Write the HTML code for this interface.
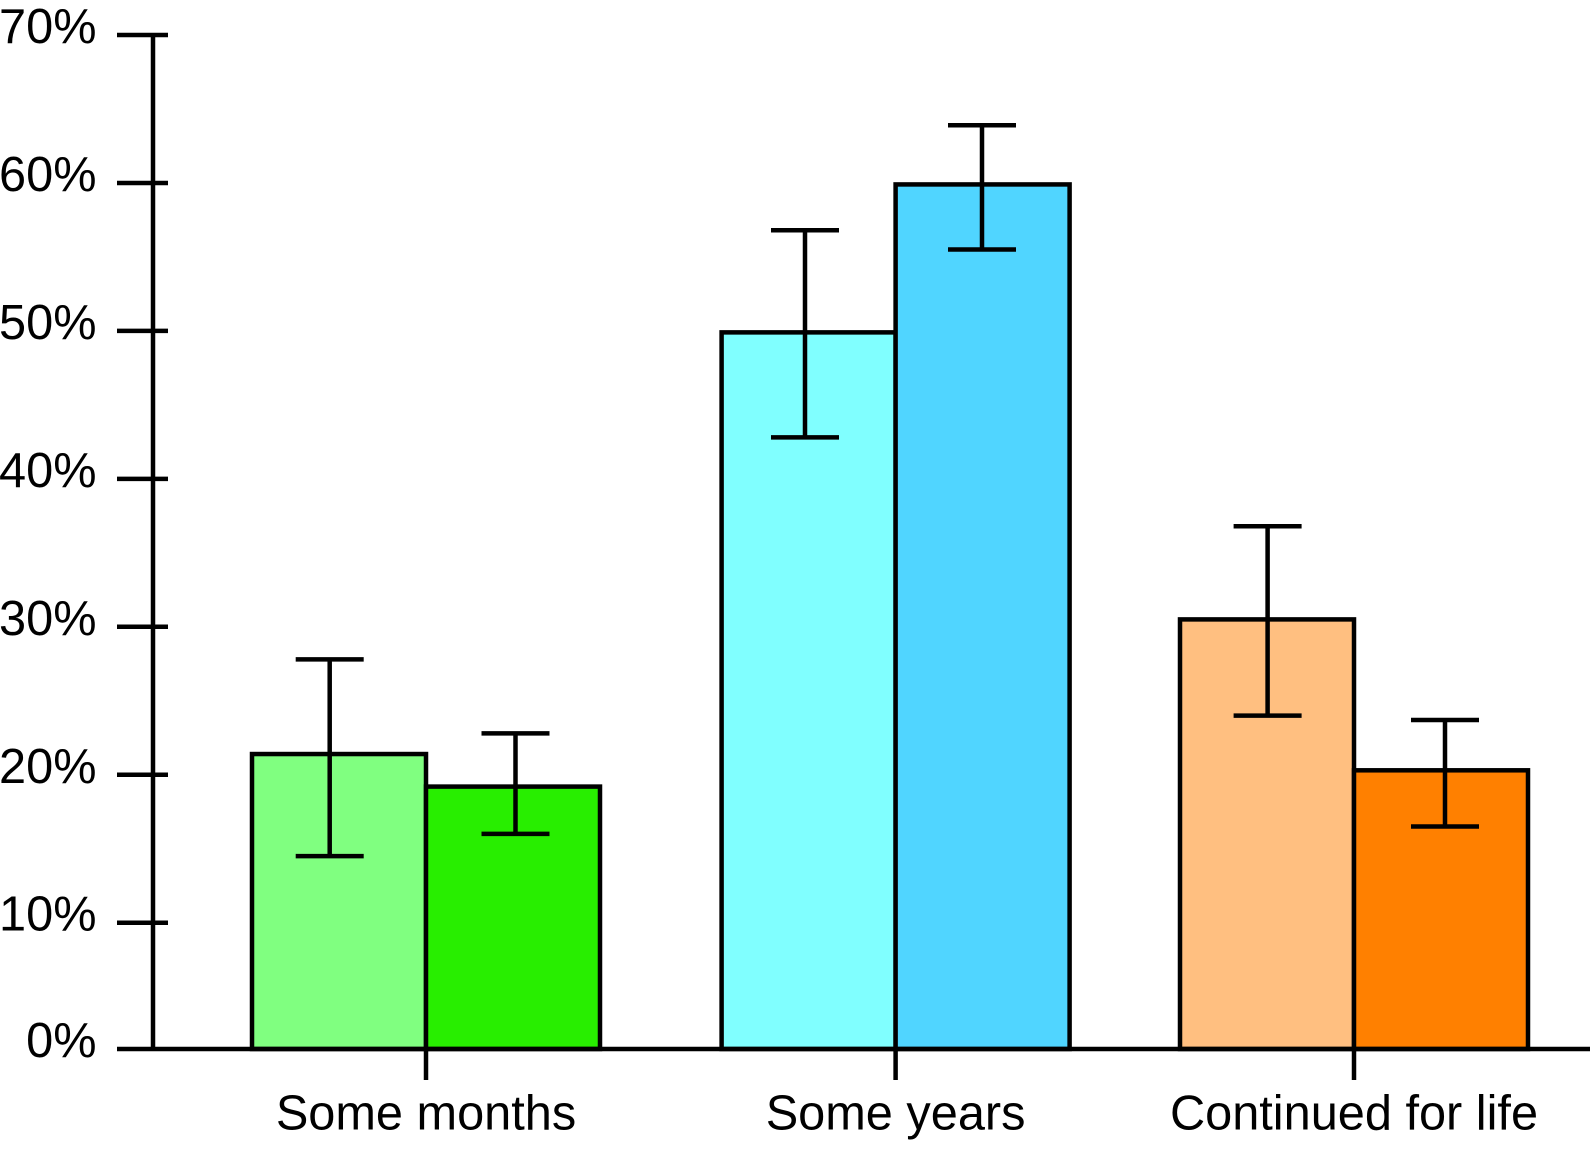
<!DOCTYPE html>
<html lang="en">
<head>
<meta charset="utf-8">
<title>Duration bar chart</title>
<style>
html,body{margin:0;padding:0;background:#fff;}
svg{display:block;}
text{font-family:"Liberation Sans",Arial,sans-serif;font-size:48.7px;fill:#000;}
</style>
</head>
<body>
<svg id="chart" xmlns="http://www.w3.org/2000/svg" width="1590" height="1153" viewBox="0 0 1590 1153"></svg>
<script>
const categories = ["Some months", "Some years", "Continued for life"];
const lightValues = [21.4, 49.9, 30.5];
const darkValues = [19.2, 59.9, 20.3];
const lightErrLow = [14.5, 42.8, 24.0];
const lightErrHigh = [27.8, 56.8, 36.8];
const darkErrLow = [16.0, 55.5, 16.5];
const darkErrHigh = [22.8, 63.9, 23.7];
const yTickValues = [0, 10, 20, 30, 40, 50, 60, 70];
const yTickLabels = ["0%", "10%", "20%", "30%", "40%", "50%", "60%", "70%"];
const lightColors = ["#80ff80", "#80ffff", "#ffbf80"];
const darkColors = ["#28ee00", "#50d5ff", "#ff8000"];

const NS = "http://www.w3.org/2000/svg";
const svg = document.getElementById("chart");
const STROKE = 4.5;

function yScale(v) {
  // The source axis has a compressed 0-10 segment.
  return v >= 10 ? 922.7 - (v - 10) * 14.795 : 1049 - v * 12.63;
}
function groupX(i) {
  return [426, 895.6, 1354][i];
}
function errX(i, series) {
  const offsets = series === 0 ? [-96.3, -90.6, -86.4] : [89.5, 86.4, 91];
  return groupX(i) + offsets[i];
}
const barWidth = 174;

function make(tag, attrs, parent) {
  const el = document.createElementNS(NS, tag);
  for (const k in attrs) el.setAttribute(k, attrs[k]);
  (parent || svg).appendChild(el);
  return el;
}
function line(x1, y1, x2, y2, parent) {
  return make("line", { x1: x1, y1: y1, x2: x2, y2: y2, stroke: "#000", "stroke-width": STROKE }, parent);
}

// Bars
categories.forEach(function (cat, i) {
  const baseY = yScale(0);
  const lightBar = make("rect", {
    x: groupX(i) - barWidth, y: yScale(lightValues[i]),
    width: barWidth, height: baseY - yScale(lightValues[i]),
    fill: lightColors[i], stroke: "#000", "stroke-width": STROKE
  });
  
  
  const darkBar = make("rect", {
    x: groupX(i), y: yScale(darkValues[i]),
    width: barWidth, height: baseY - yScale(darkValues[i]),
    fill: darkColors[i], stroke: "#000", "stroke-width": STROKE
  });
  
  
});

// Error bars
function errorBar(x, low, high) {
  const g = make("g", {});
  
  
  line(x, yScale(low), x, yScale(high), g);
  line(x - 34, yScale(high), x + 34, yScale(high), g);
  line(x - 34, yScale(low), x + 34, yScale(low), g);
}
categories.forEach(function (cat, i) {
  errorBar(errX(i, 0), lightErrLow[i], lightErrHigh[i]);
  errorBar(errX(i, 1), darkErrLow[i], darkErrHigh[i]);
});

// Y axis
const yAxis = line(153, yScale(70), 153, yScale(0));


yTickValues.forEach(function (v, i) {
  if (v !== 0) {
    const tick = line(117, yScale(v), 168, yScale(v));
    
    
  }
  const label = make("text", { x: 96.5, y: yScale(v) + 8, "text-anchor": "end" });
  label.textContent = yTickLabels[i];
  
  
});

// X axis
const xAxis = line(117, yScale(0), 1590, yScale(0));


categories.forEach(function (cat, i) {
  const tick = line(groupX(i), yScale(0), groupX(i), 1080);
  
  
  const label = make("text", { x: groupX(i), y: 1129.5, "text-anchor": "middle" });
  label.textContent = cat;
  
  
});
</script>
</body>
</html>
